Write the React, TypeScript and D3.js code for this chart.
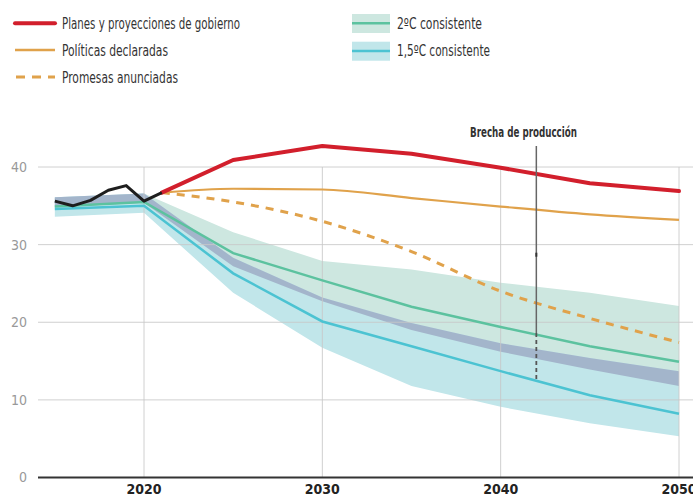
import React from "react";
import * as d3 from "d3";

// historical emissions (black)
const histYears: number[] = [2015, 2016, 2017, 2018, 2019, 2020, 2021];
const histValues: number[] = [35.6, 35.0, 35.7, 37.0, 37.6, 35.6, 36.7];

// projections from 2021
const projYears: number[] = [2021, 2025, 2030, 2035, 2040, 2045, 2050];
const planesValues: number[] = [36.7, 40.9, 42.7, 41.7, 39.9, 37.9, 36.9];
const politicasValues: number[] = [36.7, 37.2, 37.1, 36.0, 34.9, 33.9, 33.2];
const promesasValues: number[] = [36.7, 35.5, 33.0, 29.1, 24.0, 20.5, 17.4];

// pathways consistent with 2ºC / 1,5ºC
const scenYears: number[] = [2015, 2020, 2025, 2030, 2035, 2040, 2045, 2050];
const c2Line: number[] = [34.9, 35.5, 28.9, 25.4, 22.0, 19.4, 16.9, 14.9];
const c2Upper: number[] = [36.0, 36.6, 31.6, 27.9, 26.8, 25.1, 23.8, 22.1];
const c2Lower: number[] = [34.8, 35.4, 27.2, 22.7, 19.0, 16.2, 13.9, 11.8];
const c15Line: number[] = [34.6, 35.0, 26.3, 20.1, 16.9, 13.7, 10.6, 8.2];
const c15Upper: number[] = [36.1, 36.6, 28.3, 23.2, 19.9, 17.3, 15.4, 13.7];
const c15Lower: number[] = [33.6, 34.1, 23.8, 16.7, 11.8, 9.1, 7.0, 5.3];

const xTicks: number[] = [2020, 2030, 2040, 2050];
const yTicks: number[] = [0, 10, 20, 30, 40];

const gapYear = 2042;
const gapMid = 18.6;
const gapBottom = 12.6;
const gapMark = 28.7;

const FONT = "'Liberation Sans Narrow', 'DejaVu Sans Condensed', 'Arial Narrow', sans-serif";

const C = {
    red: "#d21f2c",
    orange: "#e0a24b",
    green: "#5cc29f",
    cyan: "#4cc3d2",
    greenBand: "#cde7e0",
    cyanBand: "#c1e6ea",
    overlap: "#a3b5cb",
    grid: "#c8c8c8",
    text: "#333333",
};

type Pt = [number, number];
const zip = (xs: number[], ys: number[]): Pt[] => xs.map((x, i) => [x, ys[i]!]);
const zip3 = (xs: number[], a: number[], b: number[]): [number, number, number][] =>
    xs.map((x, i) => [x, a[i]!, b[i]!]);

export default function App() {
    const width = 693;
    const height = 497;

    const x = d3.scaleLinear().domain([2020, 2050]).range([144, 679]);
    const y = d3.scaleLinear().domain([0, 40]).range([477.5, 167]);
    const left = 38;

    const line = d3.line<Pt>().x(d => x(d[0])).y(d => y(d[1]));
    const smooth = d3.line<Pt>().x(d => x(d[0])).y(d => y(d[1])).curve(d3.curveMonotoneX);
    const area = d3.area<[number, number, number]>()
        .x(d => x(d[0]))
        .y0(d => y(d[2]))
        .y1(d => y(d[1]));

    // overlap: from 1,5ºC upper down to 2ºC lower
    const overlap = zip3(scenYears, c15Upper, c2Lower);

    const gx = x(gapYear);

    const legendText = (tx: number, ty: number, s: string, len: number) =>
        <text x={tx} y={ty} fontSize={16} fill={C.text} fontFamily={FONT}
              textLength={len} lengthAdjust="spacingAndGlyphs">{s}</text>;

    return <div style={{ position: "absolute", left: 0, top: 0 }}>
        <svg width={width} height={height} style={{ display: "block" }}>
            <rect width={width} height={height} fill="white" />

            {/* legend */}
            <g>
                <line x1={15} x2={55} y1={23.3} y2={23.3} stroke={C.red} strokeWidth={4} strokeLinecap="round" />
                {legendText(62, 29.3, "Planes y proyecciones de gobierno", 178)}
                <line x1={15} x2={55} y1={50} y2={50} stroke={C.orange} strokeWidth={2.5} />
                {legendText(62, 56, "Políticas declaradas", 106)}
                <line x1={16} x2={55} y1={77} y2={77} stroke={C.orange} strokeWidth={3} strokeDasharray="9 7" />
                {legendText(62, 82.7, "Promesas anunciadas", 116)}

                <rect x={352} y={14} width={38} height={19} fill={C.greenBand} />
                <line x1={352} x2={390} y1={23.3} y2={23.3} stroke={C.green} strokeWidth={2.5} />
                {legendText(397, 29.3, "2ºC consistente", 85)}
                <rect x={352} y={41.7} width={38} height={19} fill={C.cyanBand} />
                <line x1={352} x2={390} y1={51} y2={51} stroke={C.cyan} strokeWidth={2.5} />
                {legendText(397, 56, "1,5ºC consistente", 93)}
            </g>

            {/* bands */}
            <path d={area(zip3(scenYears, c2Upper, c2Lower))!} fill={C.greenBand} />
            <path d={area(zip3(scenYears, c15Upper, c15Lower))!} fill={C.cyanBand} />
            <path d={area(overlap)!} fill={C.overlap} />

            {/* grid */}
            {yTicks.filter(t => t > 0).map(t =>
                <line key={"h" + t} x1={left} x2={width} y1={y(t)} y2={y(t)} stroke={C.grid} strokeWidth={1} opacity={0.85} />
            )}
            {xTicks.map(t =>
                <line key={"v" + t} x1={x(t)} x2={x(t)} y1={y(40)} y2={y(0)} stroke={C.grid} strokeWidth={1} opacity={0.85} />
            )}
            <line x1={left} x2={width} y1={y(0)} y2={y(0)} stroke="#333" strokeWidth={2} />

            {/* axis labels */}
            {yTicks.map(t =>
                <text key={"yl" + t} x={27} y={y(t)} dy="0.35em" textAnchor="end" fontSize={14}
                      fill="#999" fontFamily={FONT}>{t}</text>
            )}
            {xTicks.map(t =>
                <text key={"xl" + t} x={x(t)} y={494} textAnchor="middle" fontSize={14} fontWeight="bold"
                      fill="#222" fontFamily={FONT}>{t}</text>
            )}

            {/* scenario lines */}
            <path d={line(zip(scenYears, c2Line))!} fill="none" stroke={C.green} strokeWidth={2.5} />
            <path d={line(zip(scenYears, c15Line))!} fill="none" stroke={C.cyan} strokeWidth={2.5} />

            {/* projections */}
            <path d={smooth(zip(projYears, promesasValues))!} fill="none" stroke={C.orange} strokeWidth={3} strokeDasharray="8 7" />
            <path d={smooth(zip(projYears, politicasValues))!} fill="none" stroke={C.orange} strokeWidth={2.2} />
            <path d={line(zip(projYears, planesValues))!} fill="none" stroke={C.red} strokeWidth={4} strokeLinejoin="round" strokeLinecap="round" />

            {/* history */}
            <path d={line(zip(histYears, histValues))!} fill="none" stroke="#1e1e1e" strokeWidth={3} strokeLinejoin="round" />

            {/* production gap marker */}
            <line x1={gx} x2={gx} y1={146} y2={y(gapMid)} stroke="#666" strokeWidth={1.5} />
            <line x1={gx} x2={gx} y1={y(gapMid)} y2={y(gapBottom)} stroke="#555" strokeWidth={1.8} strokeDasharray="4 3" />
            <rect x={gx - 1} y={y(gapMark) - 2} width={2} height={4} fill="#333" />
            <text x={523.5} y={137.3} textAnchor="middle" fontSize={14} fontWeight="bold" fill={C.text}
                  fontFamily={FONT} textLength={107} lengthAdjust="spacingAndGlyphs">Brecha de producción</text>
        </svg>
    </div>;
}
